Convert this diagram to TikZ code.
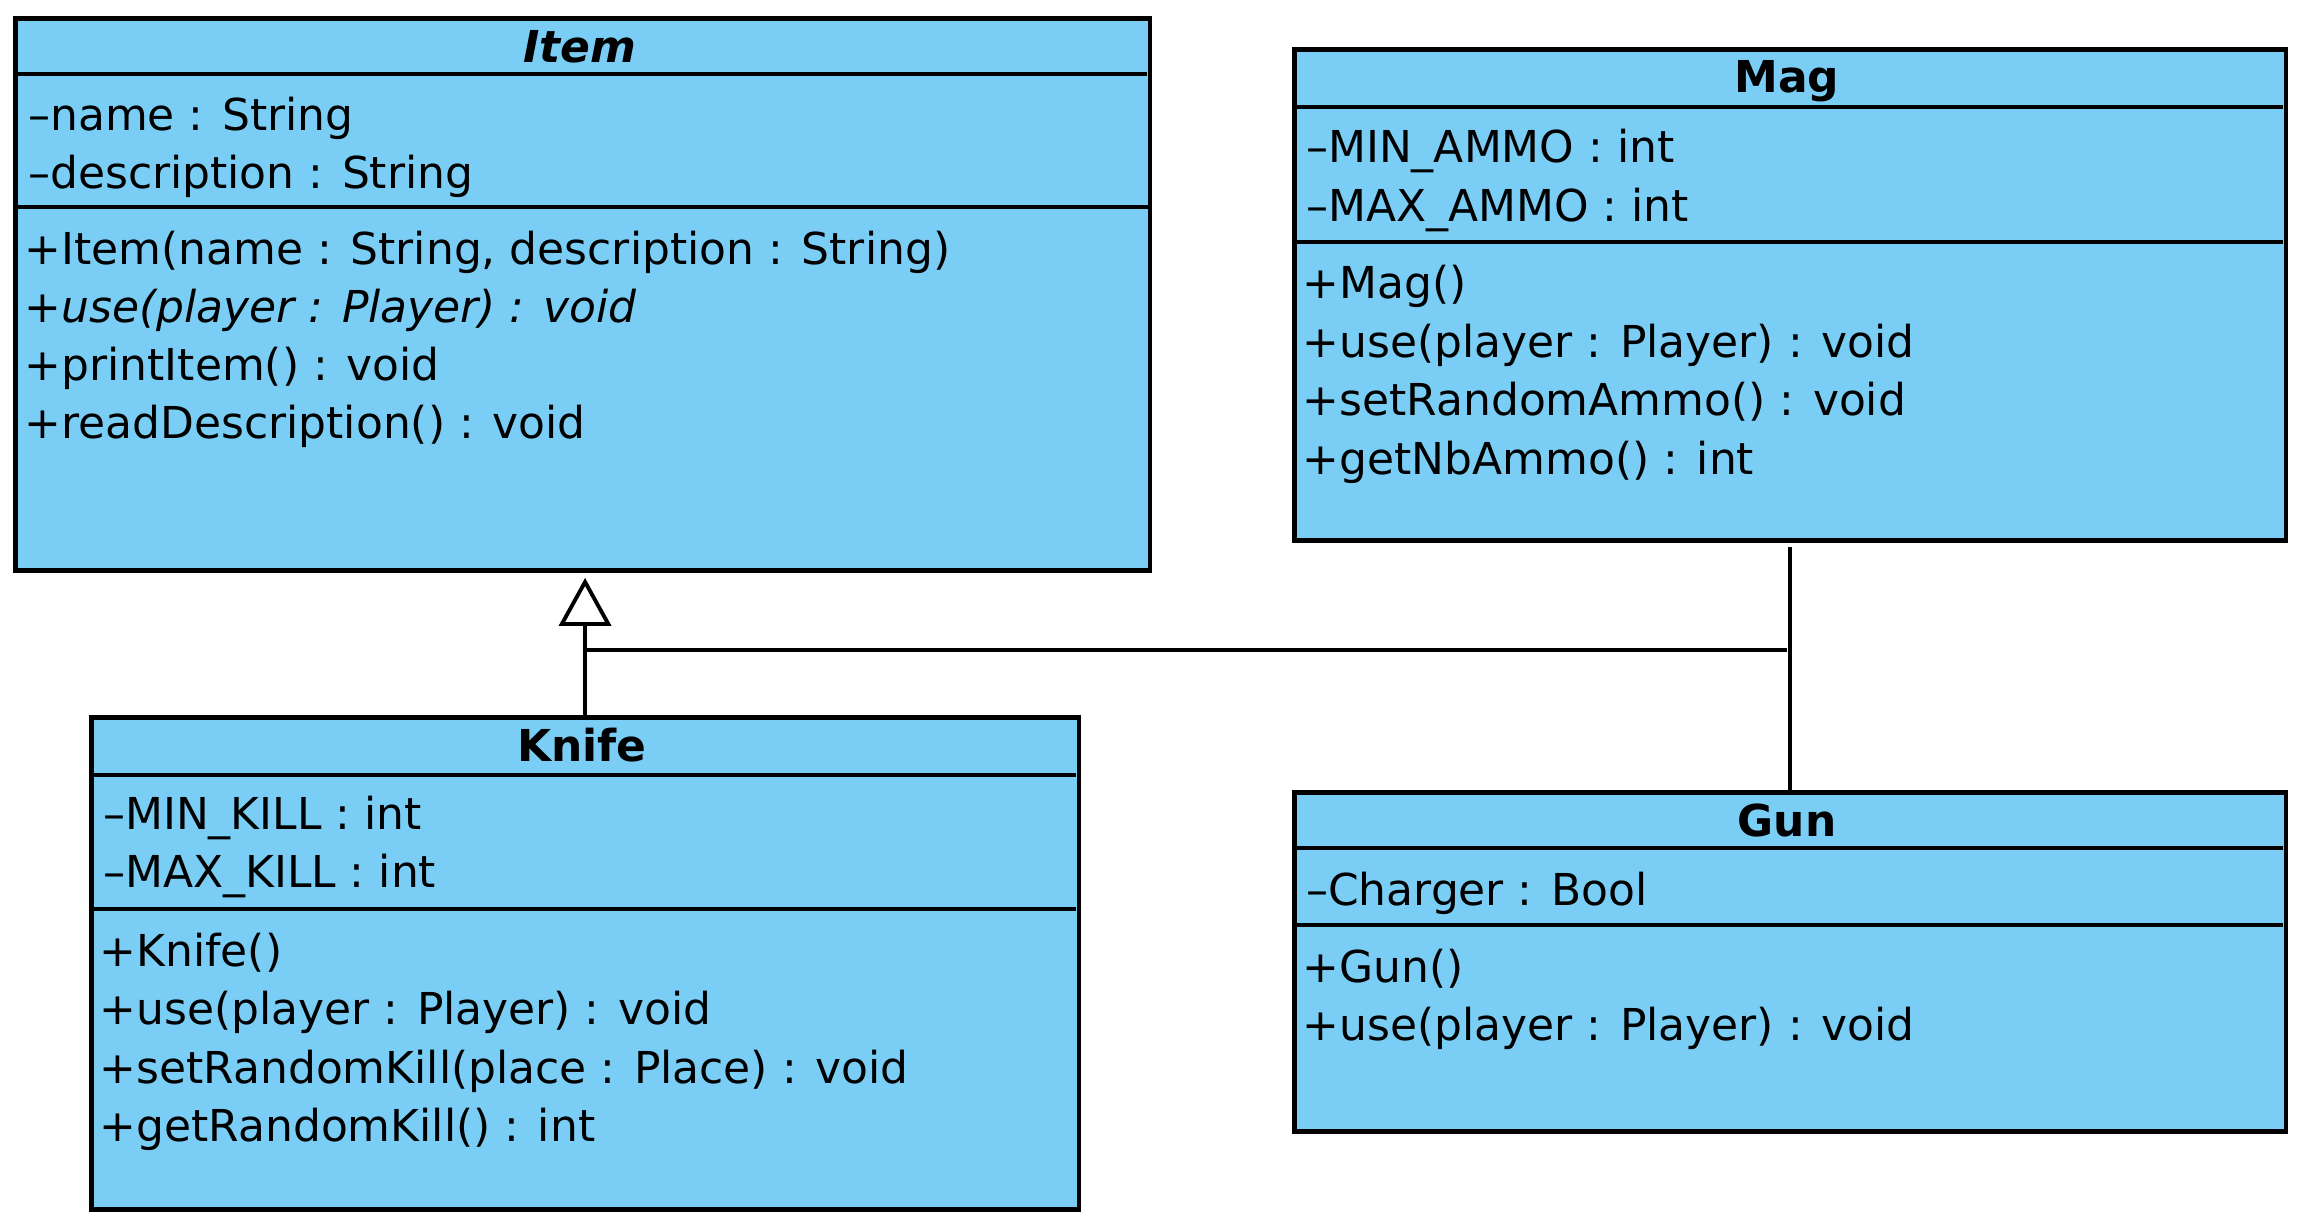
\documentclass[tikz,border=0pt]{standalone}
\usepackage{fontspec}
\setmainfont{DejaVu Sans}
\usepackage{tikz}
\usetikzlibrary{arrows.meta}
\definecolor{classblue}{RGB}{122,206,245}
\newcommand{\privmark}{\kern1pt–}

\tikzset{
  classbox/.style={draw,fill=classblue,line width=1.3pt,anchor=north west,inner sep=0pt},
  classline/.style={line width=1.3pt},
  classname/.style={anchor=base,inner sep=0pt,font=\fontsize{12.5}{15}\selectfont\bfseries},
  member/.style={anchor=base west,inner sep=0pt,font=\fontsize{12.5}{15}\selectfont},
  assoc/.style={line width=1.1pt},
  inherit/.style={line width=1.1pt,-{Triangle[open,length=0.48cm,width=0.52cm,fill=white]},shorten >=0.05cm}
}

\begin{document}
\begin{tikzpicture}[x=0.01cm,y=-0.01cm]
\useasboundingbox (0,0) rectangle (2302,1230);

% Item
\node[classbox,minimum width=11.34cm,minimum height=5.52cm] (item) at (13,16) {};
\draw[classline] (13,74) -- (1147,74);
\draw[classline] (13,207) -- (1151,207);
\node[classname] (item-name) at (580,62) {\textit{Item}};
\node[member] (item-a1) at (24,130) {\privmark name : String};
\node[member] (item-a2) at (24,188) {\privmark description : String};
\node[member] (item-m1) at (24,264) {+Item(name : String, description : String)};
\node[member] (item-m2) at (24,322) {\itshape +use(player : Player) : void};
\node[member] (item-m3) at (24,380) {+printItem() : void};
\node[member] (item-m4) at (24,438) {+readDescription() : void};

% Mag
\node[classbox,minimum width=9.91cm,minimum height=4.91cm] (mag) at (1292,47) {};
\draw[classline] (1292,107) -- (2283,107);
\draw[classline] (1292,242) -- (2283,242);
\node[classname] (mag-name) at (1787,93) {Mag};
\node[member] (mag-a1) at (1302,162) {\privmark MIN\_AMMO : int};
\node[member] (mag-a2) at (1302,221) {\privmark MAX\_AMMO : int};
\node[member] (mag-m1) at (1302,298) {+Mag()};
\node[member] (mag-m2) at (1302,357) {+use(player : Player) : void};
\node[member] (mag-m3) at (1302,415) {+setRandomAmmo() : void};
\node[member] (mag-m4) at (1302,474) {+getNbAmmo() : int};

% Knife
\node[classbox,minimum width=9.87cm,minimum height=4.92cm] (knife) at (89,715) {};
\draw[classline] (89,775) -- (1076,775);
\draw[classline] (89,909) -- (1076,909);
\node[classname] (knife-name) at (582,761) {Knife};
\node[member] (knife-a1) at (99,829) {\privmark MIN\_KILL : int};
\node[member] (knife-a2) at (99,887) {\privmark MAX\_KILL : int};
\node[member] (knife-m1) at (99,966) {+Knife()};
\node[member] (knife-m2) at (99,1024) {+use(player : Player) : void};
\node[member] (knife-m3) at (99,1083) {+setRandomKill(place : Place) : void};
\node[member] (knife-m4) at (99,1141) {+getRandomKill() : int};

% Gun
\node[classbox,minimum width=9.91cm,minimum height=3.39cm] (gun) at (1292,790) {};
\draw[classline] (1292,848) -- (2283,848);
\draw[classline] (1292,925) -- (2283,925);
\node[classname] (gun-name) at (1787,836) {Gun};
\node[member] (gun-a1) at (1302,905) {\privmark Charger : Bool};
\node[member] (gun-m1) at (1302,982) {+Gun()};
\node[member] (gun-m2) at (1302,1040) {+use(player : Player) : void};

% links
\coordinate (joint) at (1787,650);
\draw[inherit] (knife.north) -- (knife.north |- item.south);
\draw[assoc] (mag.south) ++(0,4) -- (gun.north);
\draw[assoc] (joint) -- (knife.north |- joint);
\end{tikzpicture}
\end{document}
